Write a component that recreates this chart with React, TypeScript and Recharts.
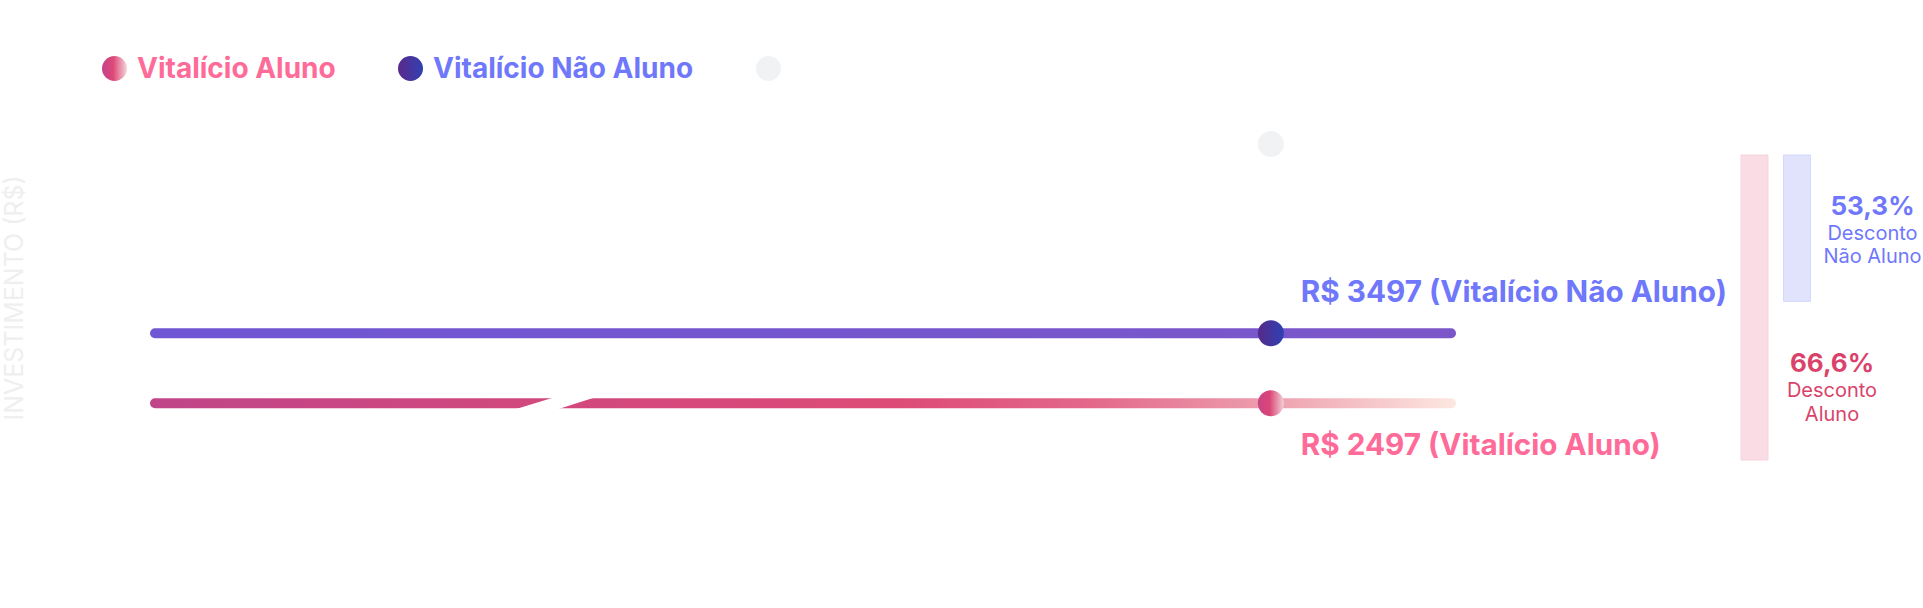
import React from 'react';
import {
  ComposedChart,
  Line,
  XAxis,
  YAxis,
  Legend,
  LabelList,
  ReferenceArea,
  BarChart,
  Bar,
  Cell,
} from 'recharts';

// positions along the timeline (start, highlighted point, end)
const posicoes = [0, 86.1, 100];
const precoNaoAluno = [3497, 3497, 3497];
const precoAluno = [2497, 2497, 2497];
const precoReferencia = [null, 6200, null];
const indiceDestaque = 1;

const rotuloNaoAluno = 'R$ 3497 (Vitalício Não Aluno)';
const rotuloAluno = 'R$ 2497 (Vitalício Aluno)';
const nomesLegenda = ['Vitalício Aluno', 'Vitalício Não Aluno', ''];

// axis break drawn on the student line
const corteX = [27.8, 34.1];
const corteY = [2410, 2590];

// discount bars on the right
const descontoNomes = ['Aluno', 'Não Aluno'];
const descontoBarras = [100, 48];
const descontoPercentuais = ['66,6%', '53,3%'];

const FONT = 'Inter, "Noto Sans", sans-serif';
const AZUL = '#6f78fb';
const ROSA = '#ff6b98';

const data = posicoes.map((p, i) => ({
  posicao: p,
  aluno: precoAluno[i],
  naoAluno: precoNaoAluno[i],
  referencia: precoReferencia[i],
}));

const dataDesconto = descontoNomes.map((n, i) => ({
  nome: n,
  valor: descontoBarras[i],
  percentual: descontoPercentuais[i],
}));

const legendaEstilo = [
  { fundo: 'linear-gradient(90deg, #c3428a 0%, #de4878 45%, #f4d6da 100%)', cor: ROSA, largura: 296 },
  { fundo: 'linear-gradient(90deg, #5b2a8b 0%, #3140b2 100%)', cor: AZUL, largura: 358 },
  { fundo: '#f1f2f3', cor: '#f1f2f3', largura: 40 },
];

const renderLegenda = () => (
  <div style={{ display: 'flex', alignItems: 'center', fontFamily: FONT }}>
    {nomesLegenda.map((nome, i) => (
      <div key={i} style={{ display: 'flex', alignItems: 'center', width: legendaEstilo[i].largura }}>
        <span
          style={{
            width: 25,
            height: 25,
            borderRadius: '50%',
            background: legendaEstilo[i].fundo,
            marginRight: 10,
            flex: 'none',
          }}
        />
        <span style={{ color: legendaEstilo[i].cor, fontSize: 28, fontWeight: 700, whiteSpace: 'nowrap' }}>{nome}</span>
      </div>
    ))}
  </div>
);

const pontoDestaque = (fill: string, r: number) => (props: any) => {
  const { cx, cy, index } = props;
  if (index !== indiceDestaque || cy == null) return <g key={`d-${index}`} />;
  return <circle key={`d-${index}`} cx={cx} cy={cy} r={r} fill={fill} />;
};

const rotuloLinha = (texto: string, cor: string, dy: number) => (props: any) => {
  const { x, y, index } = props;
  if (index !== indiceDestaque) return null;
  return (
    <text x={x + 30} y={y + dy} fill={cor} fontSize={29.7} fontWeight={700} fontFamily={FONT}>
      {texto}
    </text>
  );
};

const Corte = (props: any) => {
  const { x, y, width, height } = props;
  const pts = `${x},${y + height} ${x + width * 0.5},${y} ${x + width},${y} ${x + width * 0.52},${y + height}`;
  return <polygon points={pts} fill="#ffffff" />;
};

const rotuloDesconto = (props: any) => {
  const { x, y, width, height, index } = props;
  const topo = Math.min(y, y + height);
  const base = Math.max(y, y + height);
  if (index === 1) {
    const cx = x + width + 62;
    return (
      <g fontFamily={FONT} textAnchor="middle" fill={AZUL}>
        <text x={cx} y={topo + 60} fontSize={26} fontWeight={700}>{descontoPercentuais[1]}</text>
        <text x={cx} y={topo + 85} fontSize={20}>Desconto</text>
        <text x={cx} y={topo + 108} fontSize={20}>Não Aluno</text>
      </g>
    );
  }
  const cx = x + width + 64;
  return (
    <g fontFamily={FONT} textAnchor="middle" fill="#d9436b">
      <text x={cx} y={base - 88} fontSize={26} fontWeight={700}>{descontoPercentuais[0]}</text>
      <text x={cx} y={base - 63} fontSize={20}>Desconto</text>
      <text x={cx} y={base - 39} fontSize={20}>Aluno</text>
    </g>
  );
};

export default function App() {
  return (
    <div style={{ position: 'absolute', left: 0, top: 0, width: 1923, height: 608, background: '#fff' }}>
      <ComposedChart width={1923} height={608} data={data} margin={{ top: 18, right: 0, bottom: 30, left: 0 }}>
        <defs>
          <linearGradient id="linhaAluno" gradientUnits="userSpaceOnUse" x1={150} y1={0} x2={1460} y2={0}>
            <stop offset="0%" stopColor="#bf4589" />
            <stop offset="27%" stopColor="#d0487e" />
            <stop offset="57%" stopColor="#dd4a77" />
            <stop offset="72%" stopColor="#e3688a" />
            <stop offset="86%" stopColor="#eea1b0" />
            <stop offset="100%" stopColor="#fde9e2" />
          </linearGradient>
          <linearGradient id="linhaNaoAluno" gradientUnits="userSpaceOnUse" x1={150} y1={0} x2={1460} y2={0}>
            <stop offset="0%" stopColor="#6f56d4" />
            <stop offset="100%" stopColor="#7b56c8" />
          </linearGradient>
          <linearGradient id="pontoAluno" x1="0" y1="0" x2="1" y2="0">
            <stop offset="0%" stopColor="#c74585" />
            <stop offset="45%" stopColor="#dc4577" />
            <stop offset="100%" stopColor="#f2d2d6" />
          </linearGradient>
          <linearGradient id="pontoNaoAluno" x1="0" y1="0" x2="1" y2="0">
            <stop offset="0%" stopColor="#552a8a" />
            <stop offset="100%" stopColor="#2f41b3" />
          </linearGradient>
        </defs>
        <XAxis dataKey="posicao" type="number" domain={[0, 100]} hide padding={{ left: 127, right: 472 }} />
        <YAxis
          width={28}
          domain={[0, 8000]}
          tick={false}
          tickLine={false}
          axisLine={false}
          label={{
            value: 'INVESTIMENTO (R$)',
            angle: -90,
            position: 'center',
            fill: '#eeeff0',
            fontSize: 25,
            fontFamily: FONT,
          }}
        />
        <Legend
          verticalAlign="middle"
          align="center"
          content={renderLegenda}
          wrapperStyle={{ top: 51, left: 102, width: 'auto', height: 30 }}
        />
        <Line
          dataKey="aluno"
          name={nomesLegenda[0]}
          stroke="url(#linhaAluno)"
          strokeWidth={10}
          strokeLinecap="round"
          dot={pontoDestaque('url(#pontoAluno)', 13)}
          activeDot={false}
          isAnimationActive={false}
        >
          <LabelList dataKey="aluno" content={rotuloLinha(rotuloAluno, ROSA, 52)} />
        </Line>
        <Line
          dataKey="naoAluno"
          name={nomesLegenda[1]}
          stroke="url(#linhaNaoAluno)"
          strokeWidth={10}
          strokeLinecap="round"
          dot={pontoDestaque('url(#pontoNaoAluno)', 13)}
          activeDot={false}
          isAnimationActive={false}
        >
          <LabelList dataKey="naoAluno" content={rotuloLinha(rotuloNaoAluno, AZUL, -31)} />
        </Line>
        <Line
          dataKey="referencia"
          name="referencia"
          stroke="none"
          strokeWidth={0}
          dot={pontoDestaque('#f1f2f3', 13)}
          activeDot={false}
          isAnimationActive={false}
        />
        <ReferenceArea
          x1={corteX[0]}
          x2={corteX[1]}
          y1={corteY[0]}
          y2={corteY[1]}
          shape={<Corte />}
          zIndex={500}
        />
      </ComposedChart>
      <div style={{ position: 'absolute', left: 1733, top: 0 }}>
        <BarChart width={190} height={608} data={dataDesconto} margin={{ top: 155, right: 105, bottom: 148, left: 0 }}>
          <XAxis dataKey="nome" hide />
          <YAxis hide reversed domain={[0, 100]} />
          <Bar dataKey="valor" barSize={27} isAnimationActive={false}>
            {dataDesconto.map((d, i) => (
              <Cell key={d.nome} fill={i === 0 ? '#f9dce4' : '#e1e3fd'} stroke={i === 0 ? '#f7d3dd' : '#d5d8fb'} />
            ))}
            <LabelList dataKey="percentual" content={rotuloDesconto} />
          </Bar>
        </BarChart>
      </div>
    </div>
  );
}
